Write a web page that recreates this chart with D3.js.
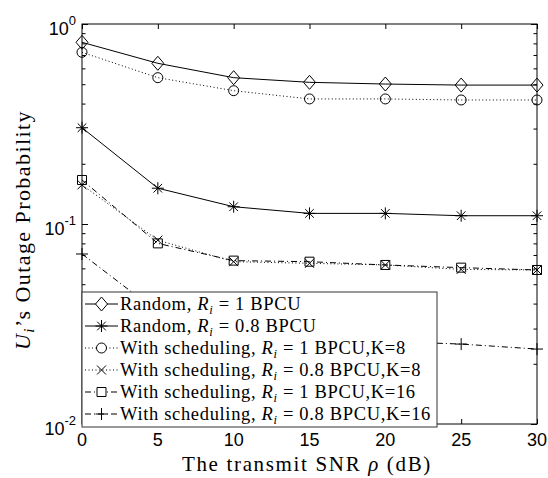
<!DOCTYPE html>
<html>
<head>
<meta charset="utf-8">
<script src="https://cdn.jsdelivr.net/npm/d3@7"></script>
<style>
  body { margin: 0; background: #fff; }
  svg { display: block; }
</style>
</head>
<body>
<div id="graph"></div>
<script>
// values
const snr = [0, 5, 10, 15, 20, 25, 30];
const randomR1 = [0.81, 0.636, 0.539, 0.511, 0.501, 0.495, 0.495];
const randomR08 = [0.303, 0.151, 0.122, 0.113, 0.113, 0.110, 0.110];
const schedR1K8 = [0.722, 0.539, 0.464, 0.422, 0.422, 0.417, 0.417];
const schedR08K8 = [0.157, 0.083, 0.0648, 0.0636, 0.0624, 0.0593, 0.0589];
const schedR1K16 = [0.166, 0.080, 0.0656, 0.0648, 0.0624, 0.0605, 0.0589];
const schedR08K16 = [0.0708, 0.0363, 0.030, 0.027, 0.0259, 0.0251, 0.0237];

const xTicks = [0, 5, 10, 15, 20, 25, 30];
const yTickExps = [-2, -1, 0];
const legendPrefix = ['Random, ', 'Random, ', 'With scheduling, ', 'With scheduling, ', 'With scheduling, ', 'With scheduling, '];
const legendRate = ['1 BPCU', '0.8 BPCU', '1 BPCU,K=8', '0.8 BPCU,K=8', '1 BPCU,K=16', '0.8 BPCU,K=16'];

const series = [
    { values: randomR1, marker: 'diamond', dash: null },
    { values: randomR08, marker: 'star', dash: null },
    { values: schedR1K8, marker: 'circle', dash: '1,2.5' },
    { values: schedR08K8, marker: 'x', dash: '1,2.5' },
    { values: schedR1K16, marker: 'square', dash: '6,3,1,3' },
    { values: schedR08K16, marker: 'plus', dash: '6,3,1,3' }
];

const w = 548, h = 478;
const pLeft = 82, pRight = 537, pTop = 24, pBottom = 424;
const serif = 'Liberation Serif, serif';
const sans = 'Liberation Sans, Arial, sans-serif';

const svg = d3.select('#graph').append('svg')
    .attr('width', w)
    .attr('height', h);

const x = d3.scaleLinear().domain([0, 30]).range([pLeft, pRight]);
const y = d3.scaleLog().domain([0.01, 1]).range([pBottom, pTop]);

// widen text a little to the width of the original (Computer Modern is wider than Times)
const fitWidth = (sel, target) => {
    const node = sel.node();
    const n = node.getNumberOfChars();
    const natural = node.getComputedTextLength();
    const ls = (target - natural) / n;
    sel.style('letter-spacing', ls + 'px');
    return ls;
};

const markerPath = (type) => {
    switch (type) {
        case 'diamond': return 'M0,-7L6,0L0,7L-6,0Z';
        case 'circle': return 'M5,0A5,5 0 1,1 -5,0A5,5 0 1,1 5,0Z';
        case 'square': return 'M-4.5,-4.5H4.5V4.5H-4.5Z';
        case 'x': return 'M-4.5,-4.5L4.5,4.5M4.5,-4.5L-4.5,4.5';
        case 'plus': return 'M-6,0H6M0,-6V6';
        case 'star': return 'M-6,0H6M0,-6V6M-4.3,-4.3L4.3,4.3M4.3,-4.3L-4.3,4.3';
    }
};

// axes box with inward ticks
svg.append('rect')
    .attr('x', pLeft).attr('y', pTop)
    .attr('width', pRight - pLeft).attr('height', pBottom - pTop)
    .attr('fill', 'none').attr('stroke', '#000').attr('stroke-width', 1);

const xAxisB = d3.axisBottom(x).tickValues(xTicks).tickSize(-5).tickFormat('');
const xAxisT = d3.axisTop(x).tickValues(xTicks).tickSize(-5).tickFormat('');
svg.append('g').attr('transform', 'translate(0,' + pBottom + ')').call(xAxisB);
svg.append('g').attr('transform', 'translate(0,' + pTop + ')').call(xAxisT);

const minor = [];
for (let e = -2; e < 0; e++) {
    for (let m = 2; m < 10; m++) minor.push(m * Math.pow(10, e));
}
const major = yTickExps.map(e => Math.pow(10, e));
const yAxisL = d3.axisLeft(y).tickValues(major).tickSize(-6).tickFormat('');
const yAxisR = d3.axisRight(y).tickValues(major).tickSize(-6).tickFormat('');
const yMinL = d3.axisLeft(y).tickValues(minor).tickSize(-3.5).tickFormat('');
const yMinR = d3.axisRight(y).tickValues(minor).tickSize(-3.5).tickFormat('');
svg.append('g').attr('transform', 'translate(' + pLeft + ',0)').call(yAxisL);
svg.append('g').attr('transform', 'translate(' + pRight + ',0)').call(yAxisR);
svg.append('g').attr('transform', 'translate(' + pLeft + ',0)').call(yMinL);
svg.append('g').attr('transform', 'translate(' + pRight + ',0)').call(yMinR);
svg.selectAll('.domain').remove();
svg.selectAll('.tick line').attr('stroke', '#000');

// tick labels
svg.append('g').selectAll('text')
    .data(xTicks)
    .enter()
    .append('text')
    .attr('x', d => x(d))
    .attr('y', pBottom + 22)
    .attr('text-anchor', 'middle')
    .style('font-family', sans)
    .style('font-size', '18px')
    .text(d => d);

const yl = svg.append('g').selectAll('text')
    .data(yTickExps)
    .enter()
    .append('text')
    .attr('x', 76)
    .attr('y', d => y(Math.pow(10, d)) + 11)
    .attr('text-anchor', 'end')
    .style('font-family', sans)
    .style('font-size', '18px');
yl.append('tspan').text('10');
yl.append('tspan').attr('dy', -10).style('font-size', '13px').text(d => d);

// series
const line = d3.line().x((d, i) => x(snr[i])).y(d => y(d));
series.forEach(s => {
    svg.append('path')
        .datum(s.values)
        .attr('d', line)
        .attr('fill', 'none')
        .attr('stroke', '#000')
        .attr('stroke-width', 1)
        .attr('stroke-dasharray', s.dash);
    svg.append('g').selectAll('path')
        .data(s.values)
        .enter()
        .append('path')
        .attr('transform', (d, i) => 'translate(' + x(snr[i]) + ',' + y(d) + ')')
        .attr('d', markerPath(s.marker))
        .attr('fill', 'none')
        .attr('stroke', '#000')
        .attr('stroke-width', 1);
});

// legend
const lg = svg.append('g');
lg.append('rect')
    .attr('x', 82).attr('y', 292)
    .attr('width', 355).attr('height', 135)
    .attr('fill', '#fff').attr('stroke', '#333').attr('stroke-width', 1);
const legendTexts = [];
series.forEach((s, i) => {
    const ry = 304 + i * 22;
    lg.append('line')
        .attr('x1', 85).attr('x2', 118)
        .attr('y1', ry).attr('y2', ry)
        .attr('stroke', '#000')
        .attr('stroke-dasharray', s.dash);
    lg.append('path')
        .attr('transform', 'translate(101.5,' + ry + ')')
        .attr('d', markerPath(s.marker))
        .attr('fill', s.marker === 'diamond' || s.marker === 'circle' || s.marker === 'square' ? '#fff' : 'none')
        .attr('stroke', '#000');
    const t = lg.append('text')
        .attr('x', 120)
        .attr('y', ry + 6)
        .style('font-family', serif)
        .style('font-size', '18.5px');
    t.append('tspan').text(legendPrefix[i]);
    t.append('tspan').style('font-style', 'italic').text('R');
    t.append('tspan').attr('dy', 4).style('font-size', '12.5px').style('font-style', 'italic').text('i');
    t.append('tspan').attr('dy', -4).text(' = ' + legendRate[i]);
    legendTexts.push(t);
});
const ls = fitWidth(legendTexts[5], 311);
legendTexts.forEach(t => t.style('letter-spacing', ls + 'px'));

// axis titles
const xt = svg.append('text')
    .attr('x', 307)
    .attr('y', 471)
    .attr('text-anchor', 'middle')
    .style('font-family', serif)
    .style('font-size', '21px');
xt.append('tspan').text('The transmit SNR ');
xt.append('tspan').style('font-style', 'italic').text('ρ');
xt.append('tspan').text(' (dB)');
fitWidth(xt, 250);

const yt = svg.append('text')
    .attr('transform', 'translate(30,' + 230 + ') rotate(-90)')
    .attr('text-anchor', 'middle')
    .style('font-family', serif)
    .style('font-size', '22px');
yt.append('tspan').style('font-style', 'italic').text('U');
yt.append('tspan').attr('dy', 4).style('font-size', '15px').style('font-style', 'italic').text('i');
yt.append('tspan').attr('dy', -4).text('’s Outage Probability');
fitWidth(yt, 240);
</script>
</body>
</html>
